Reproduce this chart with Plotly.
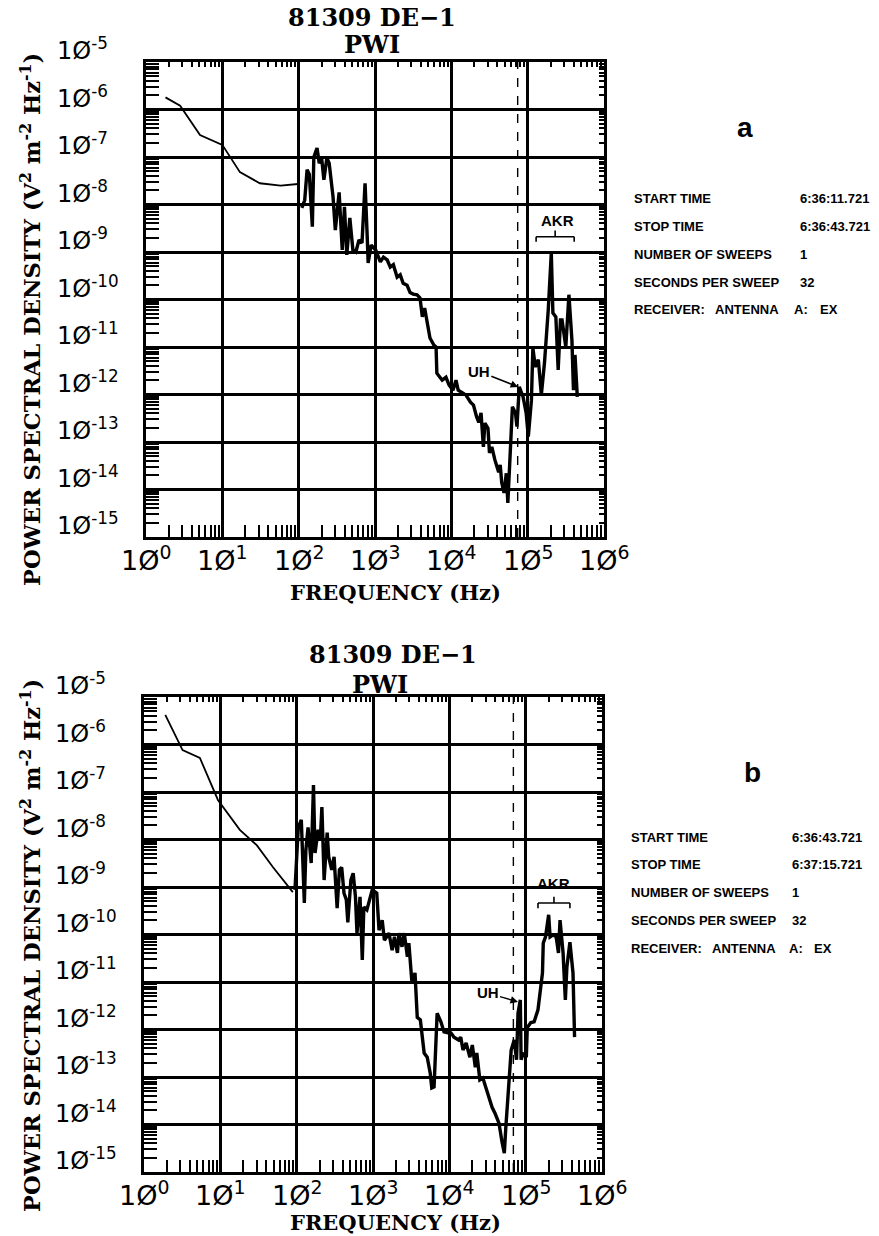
import plotly.graph_objects as go

W, H = 879, 1236

# ---------------- data ----------------
# Panel a: low-frequency (thin) part of the spectrum
lf_freq_a = [1.8, 2.8, 5.1, 10, 17, 31, 58, 98]
lf_psd_a = [1.8e-6, 1.2e-6, 2.9e-7, 1.8e-7, 4.8e-8, 2.8e-8, 2.5e-8, 2.7e-8]

# Panel a: swept spectrum (thick)
spec_freq_a = [110, 120, 129, 138, 151, 158, 174, 186, 200, 214, 234, 251, 282, 302, 339, 372,
               398, 427, 468, 513, 562, 617, 676, 741, 794, 813, 891, 955, 1020, 1175, 1290,
               1445, 1585, 1740, 1950, 2140, 2340, 2630, 2880, 3160, 3550, 3890, 4170, 4470,
               4790, 5250, 5890, 6310, 6460, 7080, 7590, 8510, 9330, 10500, 11500, 12300,
               13800, 15500, 17800, 19500, 21400, 22900, 24500, 26300, 27500, 30200, 31600,
               33900, 37200, 41700, 43700, 45700, 49000, 52500, 55000, 58900, 63100, 69200,
               72400, 77600, 81300, 87100, 95500, 102000, 112000, 117000, 126000, 138000,
               151000, 166000, 186000, 204000, 214000, 234000, 251000, 269000, 282000, 316000,
               347000, 380000, 398000, 417000, 447000]
spec_psd_a = [8.5e-9, 1.23e-8, 5.4e-8, 4.3e-8, 3.4e-9, 1.0e-7, 1.55e-7, 7.4e-8, 9.5e-8, 3.3e-8,
              9.5e-8, 7.4e-8, 1.45e-8, 2.9e-9, 1.8e-8, 1.1e-9, 8.9e-9, 8.7e-10, 5.2e-9, 1.1e-9,
              1.0e-9, 1.8e-9, 1.55e-9, 2.8e-8, 1.8e-9, 5.9e-10, 1.4e-9, 1.2e-9, 1.1e-9, 6.2e-10,
              7.8e-10, 6.8e-10, 4.8e-10, 5.4e-10, 2.95e-10, 3.3e-10, 2.2e-10, 2.0e-10, 1.4e-10,
              1.3e-10, 1.26e-10, 1.07e-10, 4.3e-11, 6.6e-11, 3.7e-11, 1.55e-11, 1.1e-11, 1.0e-11,
              2.8e-12, 2.3e-12, 2.0e-12, 2.3e-12, 1.6e-12, 1.23e-12, 2.0e-12, 1.23e-12, 1.1e-12,
              9.8e-13, 6.9e-13, 6.0e-13, 3.4e-13, 2.6e-13, 4.1e-13, 7.9e-14, 2.5e-13, 1.95e-13,
              5.9e-14, 7.9e-14, 4.2e-14, 2.3e-14, 3.3e-14, 1.4e-14, 8.5e-15, 2.2e-14, 5.2e-15,
              6.8e-14, 5.5e-13, 4.1e-13, 2.1e-13, 1.45e-12, 1.23e-12, 8.9e-13, 4.1e-13, 1.3e-13,
              7.6e-13, 9.5e-12, 3.8e-12, 5.4e-12, 9.8e-13, 4.6e-12, 6.0e-11, 9.5e-10, 5.2e-11,
              4.3e-11, 3.3e-12, 3.7e-11, 3.7e-11, 1.0e-11, 1.26e-10, 1.4e-11, 1.23e-12, 6.8e-12,
              8.9e-13]

# Panel b: low-frequency (thin) part of the spectrum
lf_freq_b = [1.9, 3.2, 5.4, 9.3, 18, 30, 49, 89]
lf_psd_b = [4.2e-6, 7.6e-7, 5.2e-7, 6.8e-8, 1.6e-8, 7.6e-9, 2.6e-9, 7.8e-10]

# Panel b: swept spectrum (thick)
spec_freq_b = [95, 105, 115, 120, 126, 132, 141, 155, 166, 174, 191, 204, 214, 229, 251, 263,
               288, 309, 339, 363, 389, 417, 447, 468, 513, 550, 589, 617, 676, 724, 759, 832,
               891, 977, 1120, 1200, 1320, 1410, 1510, 1620, 1780, 1910, 2090, 2190, 2400, 2570,
               2820, 2950, 3240, 3550, 3800, 4170, 4680, 5130, 5620, 5890, 6310, 6920, 7760,
               8510, 9550, 10500, 11500, 13200, 14100, 15100, 16600, 18600, 20000, 21900,
               22900, 25100, 27500, 31600, 33900, 36300, 39800, 44700, 49000, 52500, 55000,
               60300, 64600, 70800, 75900, 79400, 85100, 87100, 93300, 102000, 105000, 117000,
               129000, 145000, 155000, 166000, 170000, 182000, 200000, 209000, 229000, 251000,
               269000, 282000, 309000, 331000, 347000, 380000, 417000, 437000]
spec_psd_b = [8.7e-10, 1.8e-8, 2.6e-8, 1.95e-9, 4.6e-10, 6.0e-9, 1.8e-8, 3.2e-9, 1.4e-7, 5.2e-9,
              1.6e-8, 9.8e-9, 4.8e-8, 1.4e-9, 1.4e-8, 4.3e-9, 2.3e-9, 4.3e-9, 3.6e-10, 2.3e-9,
              2.6e-9, 7.4e-10, 5.4e-10, 1.8e-10, 1.4e-9, 1.95e-9, 6.2e-10, 1.07e-10, 6.2e-10,
              2.9e-11, 3.8e-10, 3.3e-10, 5.4e-10, 8.7e-10, 7.4e-10, 1.23e-10, 2.0e-10, 7.6e-11,
              8.9e-11, 1.07e-10, 4.7e-11, 8.9e-11, 4.1e-11, 1.07e-10, 5.5e-11, 1.07e-10, 3.4e-11,
              6.6e-11, 9.5e-12, 1.55e-11, 1.8e-12, 1.6e-12, 3.2e-13, 2.6e-13, 1.2e-13, 5.9e-14,
              6.2e-14, 2.2e-12, 1.45e-12, 8.9e-13, 8.5e-13, 8.5e-13, 6.9e-13, 6.0e-13, 6.9e-13,
              3.7e-13, 5.2e-13, 2.6e-13, 4.7e-13, 1.6e-13, 3.2e-13, 8.7e-14, 9.5e-14, 4.6e-14,
              3.3e-14, 2.3e-14, 1.7e-14, 1.07e-14, 4.3e-15, 2.5e-15, 8.9e-15, 8.7e-14, 3.7e-13,
              6.0e-13, 2.3e-13, 2.2e-12, 4.2e-12, 2.3e-13, 3.2e-13, 2.6e-13, 1.1e-12, 1.4e-12,
              1.45e-12, 2.6e-12, 6.8e-12, 1.55e-11, 6.6e-11, 8.9e-11, 2.6e-10, 8.9e-11, 9.8e-11,
              8.9e-11, 4.1e-11, 2.0e-10, 4.1e-11, 4.2e-12, 2.1e-11, 6.9e-11, 1.55e-11, 6.9e-13]

assert len(spec_freq_a) == len(spec_psd_a), (len(spec_freq_a), len(spec_psd_a))
assert len(spec_freq_b) == len(spec_psd_b), (len(spec_freq_b), len(spec_psd_b))

# Upper-hybrid frequency markers (dashed lines), Hz
uh_freq_a = 7.4e4
uh_freq_b = 6.9e4

# AKR bracket extents (Hz) and level (PSD)
akr_range_a = [1.29e5, 4.07e5]
akr_level_a = 2.1e-9
akr_range_b = [1.45e5, 3.8e5]
akr_level_b = 4.6e-10

# Tick labels
x_tick_exps = [0, 1, 2, 3, 4, 5, 6]
y_tick_exps = [-5, -6, -7, -8, -9, -10, -11, -12, -13, -14, -15]

# Info text
title_line1 = "81309 DE\u22121"
title_line2 = "PWI"
info_a = {"START TIME": "6:36:11.721", "STOP TIME": "6:36:43.721",
          "NUMBER OF SWEEPS": "1", "SECONDS PER SWEEP": "32"}
info_b = {"START TIME": "6:36:43.721", "STOP TIME": "6:37:15.721",
          "NUMBER OF SWEEPS": "1", "SECONDS PER SWEEP": "32"}
receiver_parts = ["RECEIVER:", "ANTENNA", "A:", "EX"]

# ---------------- figure ----------------
def px(x):
    return x / W


def py(y):
    return 1 - y / H


SERIF = "DejaVu Serif"
SANS = "Liberation Sans"
TICKF = "DejaVu Sans"

panels = [
    dict(x="x", y="y", xt="x3", yr="y3", box=(146, 604, 62, 537),
         lf=(lf_freq_a, lf_psd_a), spec=(spec_freq_a, spec_psd_a), uh=uh_freq_a,
         akr=(akr_range_a, akr_level_a), tag="a", tagpos=(745, 128),
         rows=[198, 226, 254, 282, 309], c1=632, c2=798, rec=[632, 713, 792, 818],
         info=info_a, t1=(372, 18), t2=(372, 45), ytitle=(30, 320), xtitle=(395, 592),
         xlab_y=558, ylab_x=55,
         uh_text=(4.36, -11.51), uh_tip=(4.875, -11.84), akr_text=(5.39, -8.33)),
    dict(x="x2", y="y2", xt="x4", yr="y4", box=(144, 602, 697, 1172),
         lf=(lf_freq_b, lf_psd_b), spec=(spec_freq_b, spec_psd_b), uh=uh_freq_b,
         akr=(akr_range_b, akr_level_b), tag="b", tagpos=(752, 772),
         rows=[837, 864, 892, 920, 948], c1=629, c2=790, rec=[629, 710, 787, 812],
         info=info_b, t1=(393, 655), t2=(380, 684), ytitle=(30, 946), xtitle=(395, 1222),
         xlab_y=1193, ylab_x=53,
         uh_text=(4.50, -11.23), uh_tip=(4.90, -11.42), akr_text=(5.37, -8.92)),
]

fig = go.Figure()
layout = dict(width=W, height=H, margin=dict(l=0, r=0, t=0, b=0), autosize=False,
              paper_bgcolor="white", plot_bgcolor="white", showlegend=False)
annotations = []
shapes = []


def note(text, x, y, xref="paper", yref="paper", xanchor="center", yanchor="middle", **kw):
    d = dict(text=text, x=x, y=y, xref=xref, yref=yref, xanchor=xanchor, yanchor=yanchor,
             showarrow=False)
    d.update(kw)
    annotations.append(d)


for i, p in enumerate(panels):
    n = "" if i == 0 else "2"
    nt = "3" if i == 0 else "4"
    x0, x1, y0, y1 = p["box"]
    xdom = [px(x0), px(x1)]
    ydom = [py(y1), py(y0)]

    fig.add_trace(go.Scatter(x=p["lf"][0], y=p["lf"][1], mode="lines",
                             line=dict(color="black", width=1.8),
                             xaxis=p["x"], yaxis=p["y"], hoverinfo="skip"))
    fig.add_trace(go.Scatter(x=p["spec"][0], y=p["spec"][1], mode="lines",
                             line=dict(color="black", width=3.4),
                             xaxis=p["x"], yaxis=p["y"], hoverinfo="skip"))
    # empty traces so that the top/right tick axes are drawn
    fig.add_trace(go.Scatter(x=[], y=[], xaxis=p["xt"], yaxis=p["y"]))
    fig.add_trace(go.Scatter(x=[], y=[], xaxis=p["x"], yaxis=p["yr"]))

    common = dict(type="log", showticklabels=False, zeroline=False)
    layout["xaxis" + n] = dict(
        **common, domain=xdom, anchor=p["y"], range=[0, 6], dtick=1,
        showgrid=True, gridcolor="black", gridwidth=3,
        showline=True, linecolor="black", linewidth=3, mirror=True,
        ticks="", minor=dict(ticks="inside", ticklen=12, tickwidth=1.6,
                             tickcolor="black", dtick="D1", showgrid=False))
    layout["yaxis" + n] = dict(
        **common, domain=ydom, anchor=p["x"], range=[-15, -5], dtick=1,
        showgrid=True, gridcolor="black", gridwidth=3,
        showline=True, linecolor="black", linewidth=3, mirror=True,
        ticks="", minor=dict(ticks="inside", ticklen=13, tickwidth=1.6,
                             tickcolor="black", dtick="D1", showgrid=False))
    layout["xaxis" + nt] = dict(
        **common, overlaying=p["x"], side="top", anchor=p["y"], range=[0, 6], dtick=1,
        showgrid=False, showline=False, ticks="",
        minor=dict(ticks="inside", ticklen=5, tickwidth=1.6, tickcolor="black",
                   dtick="D1", showgrid=False))
    layout["yaxis" + nt] = dict(
        **common, overlaying=p["y"], side="right", anchor=p["x"], range=[-15, -5], dtick=1,
        showgrid=False, showline=False, ticks="",
        minor=dict(ticks="inside", ticklen=5, tickwidth=1.6, tickcolor="black",
                   dtick="D1", showgrid=False))

    # dashed UH line
    shapes.append(dict(type="line", xref=p["x"], yref=p["y"] + " domain",
                       x0=p["uh"], x1=p["uh"], y0=0, y1=1,
                       line=dict(color="black", width=1.4, dash="dash")))
    # AKR bracket
    (ak0, ak1), lev = p["akr"]
    shapes.append(dict(type="line", xref=p["x"], yref=p["y"], x0=ak0, x1=ak1,
                       y0=lev, y1=lev, line=dict(color="black", width=1.6)))
    for xe in (ak0, ak1):
        shapes.append(dict(type="line", xref=p["x"], yref=p["y"], x0=xe, x1=xe,
                           y0=lev, y1=lev * 0.78, line=dict(color="black", width=1.6)))
    xc = (ak0 * ak1) ** 0.5
    shapes.append(dict(type="line", xref=p["x"], yref=p["y"], x0=xc, x1=xc,
                       y0=lev, y1=lev * 1.35, line=dict(color="black", width=1.6)))

    note("<b>AKR</b>", p["akr_text"][0], p["akr_text"][1], xref=p["x"], yref=p["y"],
         font=dict(family=SANS, size=15, color="black"))
    annotations.append(dict(text="<b>UH</b>", x=p["uh_tip"][0], y=p["uh_tip"][1],
                            ax=p["uh_text"][0], ay=p["uh_text"][1],
                            xref=p["x"], yref=p["y"], axref=p["x"], ayref=p["y"],
                            xanchor="center", yanchor="middle",
                            showarrow=True, arrowhead=2, arrowsize=1, arrowwidth=1.5,
                            arrowcolor="black",
                            font=dict(family=SANS, size=15, color="black")))

    # tick labels
    for e in x_tick_exps:
        note("1\u00d8<sup>%d</sup>" % e, e, py(p["xlab_y"]), xref=p["x"],
             font=dict(family=TICKF, size=27, color="black"))
    for e in y_tick_exps:
        note("1\u00d8<sup>%d</sup>" % e, px(p["ylab_x"]), e, yref=p["y"],
             xanchor="left", yanchor="bottom", yshift=-5,
             font=dict(family=TICKF, size=24, color="black"))

    # titles
    note("<b>%s</b>" % title_line1, px(p["t1"][0]), py(p["t1"][1]),
         font=dict(family=SERIF, size=24, color="black"))
    note("<b>%s</b>" % title_line2, px(p["t2"][0]), py(p["t2"][1]),
         font=dict(family=SERIF, size=24, color="black"))
    note("<b>POWER SPECTRAL DENSITY (V<sup>2</sup> m<sup>-2</sup> Hz<sup>-1</sup>)</b>",
         px(p["ytitle"][0]), py(p["ytitle"][1]), textangle=-90,
         font=dict(family=SERIF, size=22.5, color="black"))
    note("<b>FREQUENCY (Hz)</b>", px(p["xtitle"][0]), py(p["xtitle"][1]),
         font=dict(family=SERIF, size=21, color="black"))

    # panel tag and info block
    note("<b>%s</b>" % p["tag"], px(p["tagpos"][0]), py(p["tagpos"][1]),
         font=dict(family=SANS, size=28, color="black"))
    for (k, v), yy in zip(p["info"].items(), p["rows"]):
        note("<b>%s</b>" % k, px(p["c1"]), py(yy), xanchor="left",
             font=dict(family=SANS, size=13, color="black"))
        note("<b>%s</b>" % v, px(p["c2"]), py(yy), xanchor="left",
             font=dict(family=SANS, size=13, color="black"))
    for part, xx in zip(receiver_parts, p["rec"]):
        note("<b>%s</b>" % part, px(xx), py(p["rows"][-1]), xanchor="left",
             font=dict(family=SANS, size=13, color="black"))

layout["annotations"] = annotations
layout["shapes"] = shapes
fig.update_layout(**layout)
fig.write_html("out.html")
